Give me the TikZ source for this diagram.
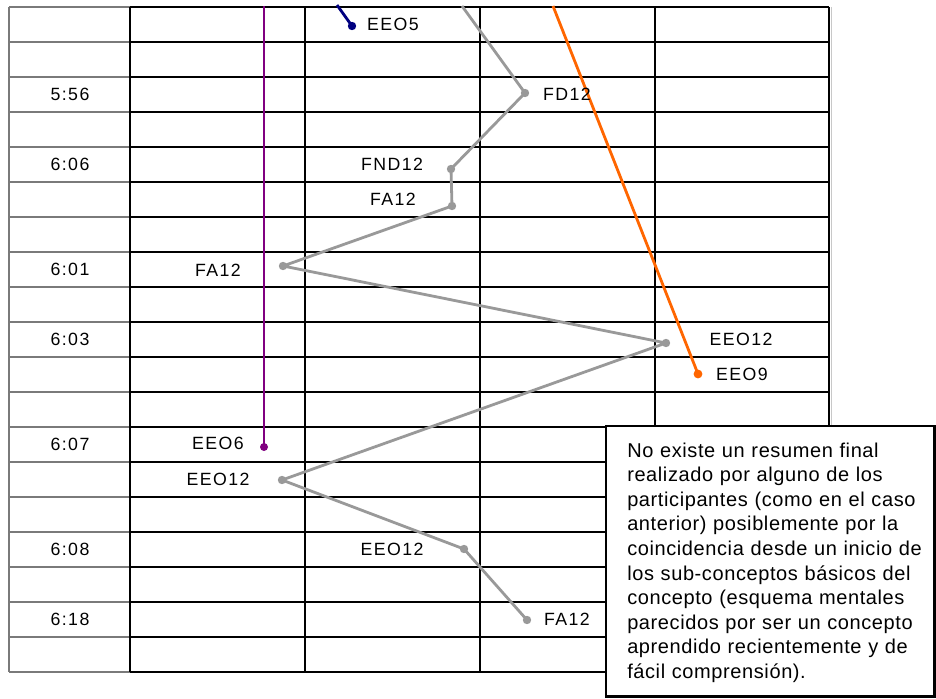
\documentclass[tikz,border=0pt]{standalone}
\usepackage{fontspec}
\setmainfont{Liberation Sans}
\newfontfamily\lblfont[LetterSpace=8.0]{Liberation Sans}
\newfontfamily\notefont[LetterSpace=3.0]{Liberation Sans}
\definecolor{trailgray}{HTML}{999999}
\definecolor{colgray}{HTML}{7A7A7A}
\definecolor{edgegray}{HTML}{C8C8C8}
\definecolor{trailorange}{HTML}{FF6600}
\definecolor{trailpurple}{HTML}{800080}
\definecolor{trailnavy}{HTML}{000080}
\begin{document}
\begin{tikzpicture}[x=0.75pt,y=-0.75pt,
  timecol/.style={colgray, line width=2pt},
  gridline/.style={black, line width=1.5pt},
  gridedge/.style={black, line width=2pt},
  trail/.style={line width=2.1pt, line join=round},
  lbl/.style={font={\lblfont\fontsize{13.3}{15}\selectfont}, inner sep=0pt},
  tm/.style={font={\lblfont\fontsize{13.3}{15}\selectfont}, inner sep=0pt},
  notebox/.style={draw=black, fill=white, line width=2.1pt, inner sep=0pt},
  notetext/.style={font={\notefont\fontsize{15}{18.45}\selectfont}, inner sep=0pt,
    text width=232pt, align=left}]
\useasboundingbox (0,0) rectangle (936,699);
\fill[white] (0,0) rectangle (936,699);

% time column (grey rules)
\foreach \r in {0,...,19}{
  \draw[timecol] (9,7+35*\r) -- (130,7+35*\r);
}
\draw[timecol] (9,7) -- (9,672);

% main grid
\foreach \r in {0,...,19}{
  \draw[gridline] (130,7+35*\r) -- (829,7+35*\r);
}
\foreach \c in {130,480,655}{
  \draw[gridline] (\c,7) -- (\c,672);
}
\draw[gridline, line width=1.8pt] (305,7) -- (305,672);
\draw[edgegray, line width=0.9pt] (831.8,7) -- (831.8,672);
\draw[gridedge] (829,7) -- (829,672);

% time labels
\node[tm] (t1) at (70,94) {5:56};
\node[tm] (t2) at (70,164) {6:06};
\node[tm] (t3) at (70,269) {6:01};
\node[tm] (t4) at (70,339) {6:03};
\node[tm] (t5) at (70,444) {6:07};
\node[tm] (t6) at (70,549) {6:08};
\node[tm] (t7) at (70,619) {6:18};

% data points
\coordinate (g0) at (462,6);
\coordinate (gFD) at (525,93);
\coordinate (gFND) at (451,169);
\coordinate (gFAa) at (452,206);
\coordinate (gFAb) at (283,266);
\coordinate (gEEOa) at (666,343);
\coordinate (gEEOb) at (282,480);
\coordinate (gEEOc) at (464,549);
\coordinate (gFAc) at (527,620);
\coordinate (o0) at (553,6);
\coordinate (oEEO) at (698,374);
\coordinate (p0) at (264,6);
\coordinate (pEEO) at (264,447);
\coordinate (n0) at (337,5);
\coordinate (nEEO) at (352,26);

% trails
\draw[trail, trailpurple, line width=1.9pt] (p0) -- (pEEO);
\fill[trailpurple] (pEEO) circle[radius=4];
\draw[trail, trailnavy] (n0) -- (nEEO);
\fill[trailnavy] (nEEO) circle[radius=4.2];
\draw[trail, trailorange] (o0) -- (oEEO);
\fill[trailorange] (oEEO) circle[radius=4.4];
\draw[trail, trailgray] (g0) -- (gFD) -- (gFND) -- (gFAa) -- (gFAb) -- (gEEOa)
  -- (gEEOb) -- (gEEOc) -- (gFAc);
\foreach \p in {gFD,gFND,gFAa,gFAb,gEEOa,gEEOb,gEEOc,gFAc}{
  \fill[trailgray] (\p) circle[radius=4.2];
}

% point labels
\node[lbl] (lEEO5) at (393,24) {EEO5};
\node[lbl] (lFD) at (567,94) {FD12};
\node[lbl] (lFND) at (392,164) {FND12};
\node[lbl] (lFAa) at (393,199) {FA12};
\node[lbl] (lFAb) at (218,270) {FA12};
\node[lbl] (lEEOa) at (741,339) {EEO12};
\node[lbl] (lEEO9) at (742,374) {EEO9};
\node[lbl] (lEEO6) at (218,443) {EEO6};
\node[lbl] (lEEOb) at (218,479) {EEO12};
\node[lbl] (lEEOc) at (392,549) {EEO12};
\node[lbl] (lFAc) at (567,619) {FA12};

% note
\draw[notebox] (606,426) rectangle (934.5,696.5);
\node[notetext, anchor=base west] (note) at (627,457)
  {No existe un resumen final\\
   realizado por alguno de los\\
   participantes (como en el caso\\
   anterior) posiblemente por la\\
   coincidencia desde un inicio de\\
   los sub-conceptos básicos del\\
   concepto (esquema mentales\\
   parecidos por ser un concepto\\
   aprendido recientemente y de\\
   fácil comprensión).};
\end{tikzpicture}
\end{document}
